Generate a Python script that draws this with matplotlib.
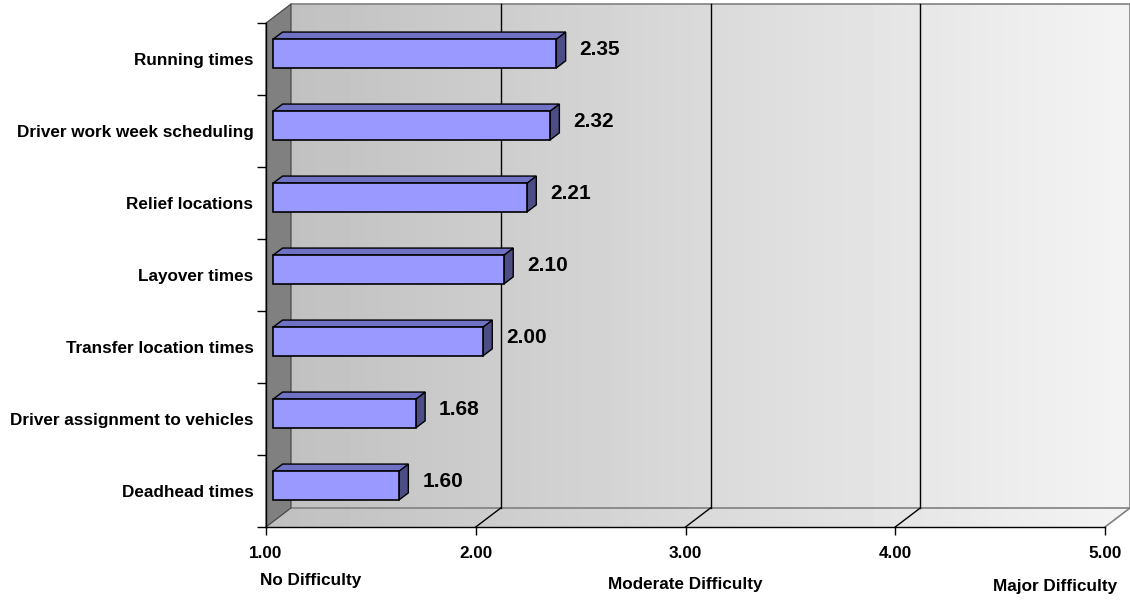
import numpy as np
import matplotlib
matplotlib.use("Agg")
import matplotlib.pyplot as plt
from matplotlib.patches import Polygon, Rectangle
import matplotlib.transforms as mtransforms

plt.rcParams['font.family'] = ['Liberation Sans', 'DejaVu Sans']
plt.rcParams['font.weight'] = 'bold'

# ---- data ----
categories = ["Deadhead times", "Driver assignment to vehicles", "Transfer location times",
              "Layover times", "Relief locations", "Driver work week scheduling", "Running times"]
values = [1.60, 1.68, 2.00, 2.10, 2.21, 2.32, 2.35]
x_ticks = [1, 2, 3, 4, 5]
x_tick_labels = ["1.00", "2.00", "3.00", "4.00", "5.00"]
scale_labels = ["No Difficulty", "Moderate Difficulty", "Major Difficulty"]
scale_positions = [1, 3, 5]

# ---- style / geometry ----
XMIN, XMAX = 1, 5
YMIN, YMAX = -0.5, len(categories) - 0.5
DX, DY = 25 / 209.75, 19 / 72.0       # full depth offset in data units
BAR_D0, BAR_D1 = 0.28, 0.66            # bar front/back depth fraction
BAR_H = 0.40
FRONT = "#9999FF"
TOP = "#7070C4"
SIDE = "#4D4D85"

fig = plt.figure(figsize=(11.30, 6.01), dpi=100)
ax = fig.add_axes([266 / 1130, (601 - 527) / 601, (1105 - 266) / 1130, (527 - 23) / 601])
ax.set_xlim(XMIN, XMAX)
ax.set_ylim(YMIN, YMAX)
ax.patch.set_visible(False)


def P(x, y, d):
    return (x + d * DX, y + d * DY)


# back wall + floor gradient
grad = np.linspace(0.75, 0.955, 256)[None, :]
wall_poly = Polygon([P(XMIN, YMIN, 1), P(XMAX, YMIN, 1), P(XMAX, YMAX, 1), P(XMIN, YMAX, 1)],
                    closed=True, facecolor='none', edgecolor='none', transform=ax.transData)
floor_poly = Polygon([P(XMIN, YMIN, 0), P(XMAX, YMIN, 0), P(XMAX, YMIN, 1), P(XMIN, YMIN, 1)],
                     closed=True, facecolor='none', edgecolor='none', transform=ax.transData)
for poly in (wall_poly, floor_poly):
    ax.add_patch(poly)
    poly.set_clip_on(False)
    im = ax.imshow(grad, cmap='gray', vmin=0, vmax=1, aspect='auto',
                   extent=(XMIN, XMAX + DX, YMIN, YMAX + DY), origin='lower',
                   interpolation='bilinear', zorder=0)
    im.set_clip_box(fig.bbox)
    im.set_clip_path(poly)

# wall outline (gray)
ax.plot([P(XMIN, YMAX, 1)[0], P(XMAX, YMAX, 1)[0], P(XMAX, YMIN, 1)[0], P(XMIN, YMIN, 1)[0]],
        [P(XMIN, YMAX, 1)[1], P(XMAX, YMAX, 1)[1], P(XMAX, YMIN, 1)[1], P(XMIN, YMIN, 1)[1]],
        color="#808080", lw=1.2, clip_on=False, zorder=1)
# floor right edge
ax.plot([P(XMAX, YMIN, 0)[0], P(XMAX, YMIN, 1)[0]], [P(XMAX, YMIN, 0)[1], P(XMAX, YMIN, 1)[1]],
        color="#808080", lw=1.2, clip_on=False, zorder=1)

# left wall
left = Polygon([P(XMIN, YMIN, 0), P(XMIN, YMAX, 0), P(XMIN, YMAX, 1), P(XMIN, YMIN, 1)],
               closed=True, facecolor="#808080", edgecolor="#404040", lw=0.8,
               clip_on=False, zorder=1)
ax.add_patch(left)

# gridlines on back wall and floor diagonals
for xt in x_ticks:
    if XMIN < xt < XMAX:
        ax.plot([P(xt, YMIN, 1)[0], P(xt, YMAX, 1)[0]], [P(xt, YMIN, 1)[1], P(xt, YMAX, 1)[1]],
                color="black", lw=1.0, clip_on=False, zorder=2)
        ax.plot([P(xt, YMIN, 0)[0], P(xt, YMIN, 1)[0]], [P(xt, YMIN, 0)[1], P(xt, YMIN, 1)[1]],
                color="black", lw=1.0, clip_on=False, zorder=2)

# bars
for i, v in enumerate(values):
    y0, y1 = i - BAR_H / 2, i + BAR_H / 2
    side = Polygon([P(v, y0, BAR_D0), P(v, y0, BAR_D1), P(v, y1, BAR_D1), P(v, y1, BAR_D0)],
                   closed=True, facecolor=SIDE, edgecolor="black", lw=1.0, zorder=4, clip_on=False,
                   joinstyle='miter')
    top = Polygon([P(XMIN, y1, BAR_D0), P(v, y1, BAR_D0), P(v, y1, BAR_D1), P(XMIN, y1, BAR_D1)],
                  closed=True, facecolor=TOP, edgecolor="black", lw=1.0, zorder=4, clip_on=False,
                  joinstyle='miter')
    fx, fy = P(XMIN, y0, BAR_D0)
    front = Rectangle((fx, fy), v - XMIN, BAR_H, facecolor=FRONT, edgecolor="black", lw=1.2,
                      zorder=5, clip_on=False)
    for p in (side, top, front):
        ax.add_patch(p)
    lx, ly = P(v, i, BAR_D1)
    ax.annotate(f"{v:.2f}", xy=(lx, ly), xytext=(10, -2), textcoords='offset points',
                ha='left', va='center', fontsize=15, fontweight='bold', zorder=6,
                annotation_clip=False)

# axes styling
for s in ('top', 'right'):
    ax.spines[s].set_visible(False)
for s in ('left', 'bottom'):
    ax.spines[s].set_color('black')
    ax.spines[s].set_linewidth(1.0)
    ax.spines[s].set_zorder(3)

ax.set_xticks(x_ticks)
ax.set_xticklabels(x_tick_labels, fontsize=12.3, fontweight='bold')
ax.tick_params(axis='x', direction='out', length=6, width=1, pad=8)

ax.set_yticks(np.arange(YMIN, YMAX + 0.01, 1.0))
ax.set_yticklabels([])
ax.tick_params(axis='y', which='major', direction='out', length=6.5, width=1)
ax.set_yticks(np.arange(len(categories)), minor=True)
ax.set_yticklabels(categories, minor=True, fontsize=12.3, fontweight='bold')
ax.tick_params(axis='y', which='minor', length=0, pad=9)

# scale descriptions
btrans = mtransforms.blended_transform_factory(ax.transData, fig.transFigure)
scale_ha = ['left', 'center', 'right']
scale_y = [1 - 580 / 601, 1 - 585 / 601, 1 - 587 / 601]
scale_dx = [-4.5, 0, 9]
for lab, xp, ha, yy, dx in zip(scale_labels, scale_positions, scale_ha, scale_y, scale_dx):
    ax.annotate(lab, xy=(xp, yy), xycoords=btrans, xytext=(dx, 0), textcoords='offset points',
                ha=ha, va='center', fontsize=12.3, fontweight='bold', annotation_clip=False)

ax.set_xlim(XMIN, XMAX)
ax.set_ylim(YMIN, YMAX)
fig.savefig("out.png", dpi=100)
